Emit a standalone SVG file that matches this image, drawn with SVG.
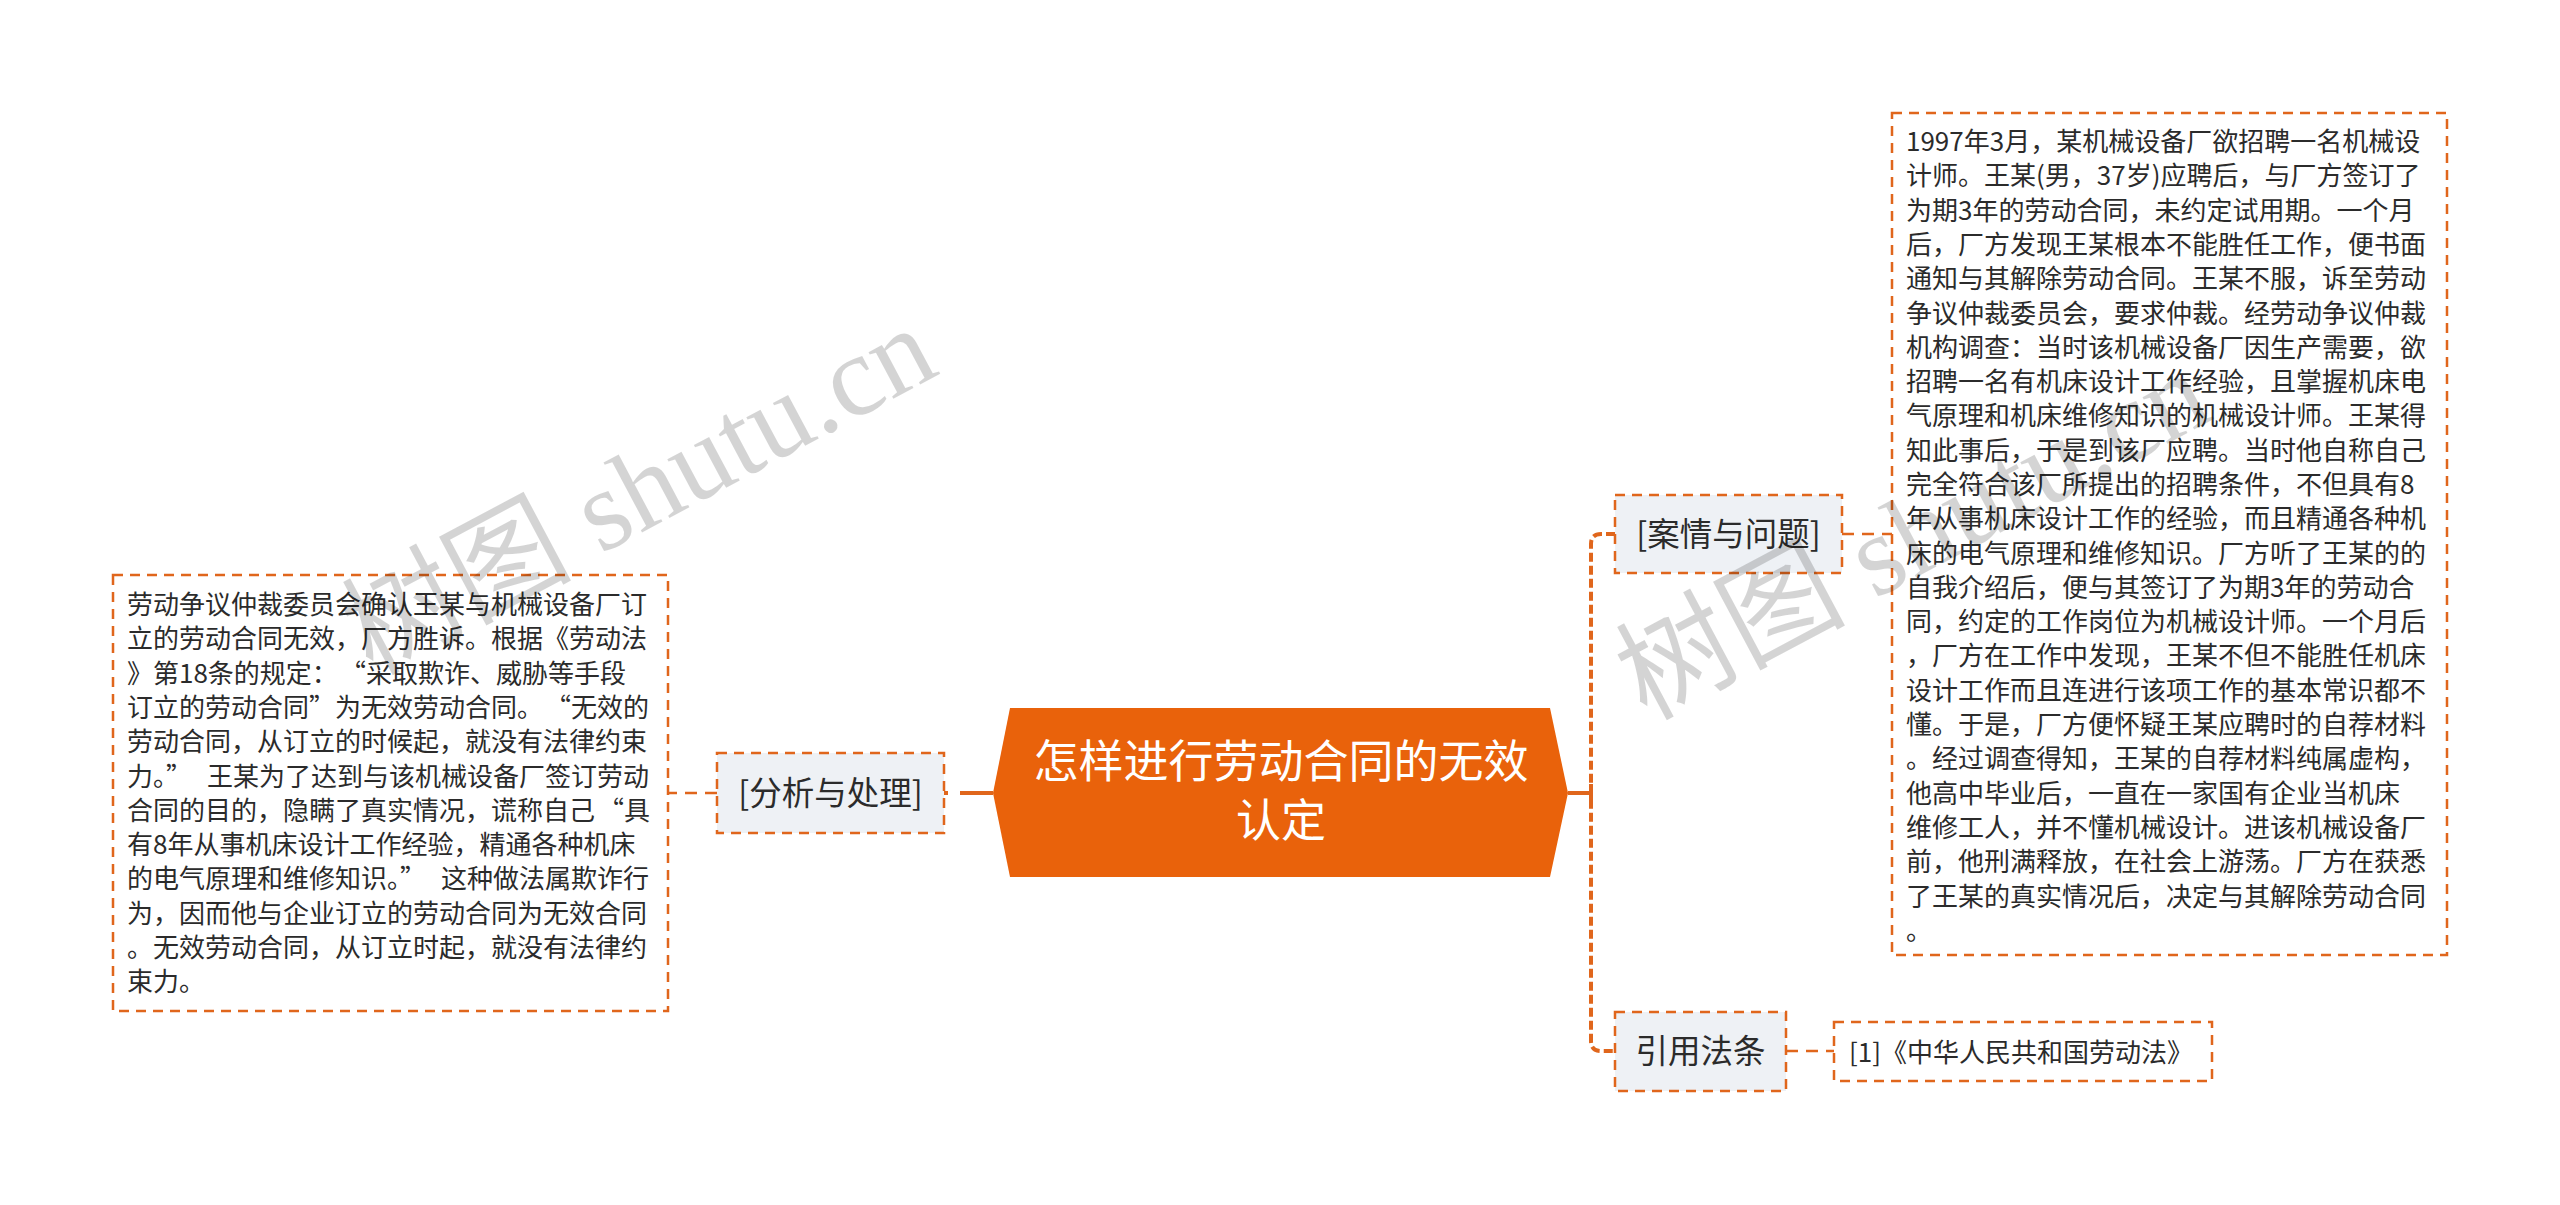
<svg xmlns="http://www.w3.org/2000/svg" width="2560" height="1205" viewBox="0 0 2560 1205">
<style>
.body{font-family:"Noto Sans CJK SC","Liberation Sans",sans-serif;font-size:26px;fill:#2b2b2b}
.lvl1{font-family:"Noto Sans CJK SC","Liberation Sans",sans-serif;font-size:32.5px;fill:#2b2b2b;text-anchor:middle}
.root{font-family:"Noto Sans CJK SC","Liberation Sans",sans-serif;font-size:45px;fill:#ffffff;text-anchor:middle}
.box1{fill:#eef1f5;stroke:#e0661c;stroke-width:2.5;stroke-dasharray:10 7}
.box2{fill:#ffffff;stroke:#e0661c;stroke-width:2.5;stroke-dasharray:10 7}
.thin{fill:none;stroke:#e0661c;stroke-width:2.5;stroke-dasharray:12 8}
.thick{fill:none;stroke:#e0661c;stroke-width:4}
.wm{font-family:"Liberation Serif","Noto Sans CJK SC",serif;font-size:115px;fill:#000;fill-opacity:0.17}
</style>
<rect width="2560" height="1205" fill="#ffffff"/>
<g id="connectors">
<line class="thick" x1="993" y1="793" x2="944" y2="793" stroke-dasharray="33 12 10 100"/>
<line class="thin" x1="717" y1="793" x2="668" y2="793"/>
<line class="thick" x1="1568" y1="793" x2="1591" y2="793"/>
<line class="thick" x1="1591" y1="784" x2="1591" y2="802"/>
<path class="thick" d="M1615,534 H1601 Q1591,534 1591,544 V1041 Q1591,1051 1601,1051 H1615" stroke-dasharray="9 4"/>
<line class="thin" x1="1842" y1="534" x2="1892" y2="534"/>
<line class="thin" x1="1786" y1="1051" x2="1834" y2="1051"/>
</g>
<g id="root">
<polygon points="1010,708 1550,708 1568,793 1550,877 1010,877 993,793" fill="#e9620b"/>
<text class="root" x="1281" y="778">怎样进行劳动合同的无效</text>
<text class="root" x="1281" y="837">认定</text>
</g>
<g id="analysis">
<rect class="box1" x="717" y="753" width="227" height="80"/>
<text class="lvl1" x="830.5" y="805">[分析与处理]</text>
</g>
<g id="analysis-text">
<rect class="box2" x="113" y="575" width="555" height="436"/>
<text class="body">
<tspan x="127" y="614">劳动争议仲裁委员会确认王某与机械设备厂订</tspan>
<tspan x="127" dy="34.3">立的劳动合同无效，厂方胜诉。根据《劳动法</tspan>
<tspan x="127" dy="34.3">》第18条的规定：<tspan dx="15">“采取欺诈、威胁等手段</tspan></tspan>
<tspan x="127" dy="34.3">订立的劳动合同”为无效劳动合同。<tspan dx="15">“无效的</tspan></tspan>
<tspan x="127" dy="34.3">劳动合同，从订立的时候起，就没有法律约束</tspan>
<tspan x="127" dy="34.3">力。”<tspan dx="15">王某为了达到与该机械设备厂签订劳动</tspan></tspan>
<tspan x="127" dy="34.3">合同的目的，隐瞒了真实情况，谎称自己<tspan dx="3">“具</tspan></tspan>
<tspan x="127" dy="34.3">有8年从事机床设计工作经验，精通各种机床</tspan>
<tspan x="127" dy="34.3">的电气原理和维修知识。”<tspan dx="15">这种做法属欺诈行</tspan></tspan>
<tspan x="127" dy="34.3">为，因而他与企业订立的劳动合同为无效合同</tspan>
<tspan x="127" dy="34.3">。无效劳动合同，从订立时起，就没有法律约</tspan>
<tspan x="127" dy="34.3">束力。</tspan>
</text>
</g>
<g id="case">
<rect class="box1" x="1615" y="495" width="227" height="78"/>
<text class="lvl1" x="1728.5" y="546">[案情与问题]</text>
</g>
<g id="case-text">
<rect class="box2" x="1892" y="113" width="555" height="842"/>
<text class="body">
<tspan x="1906" y="151">1997年3月，某机械设备厂欲招聘一名机械设</tspan>
<tspan x="1906" dy="34.3">计师。王某(男，37岁)应聘后，与厂方签订了</tspan>
<tspan x="1906" dy="34.3">为期3年的劳动合同，未约定试用期。一个月</tspan>
<tspan x="1906" dy="34.3">后，厂方发现王某根本不能胜任工作，便书面</tspan>
<tspan x="1906" dy="34.3">通知与其解除劳动合同。王某不服，诉至劳动</tspan>
<tspan x="1906" dy="34.3">争议仲裁委员会，要求仲裁。经劳动争议仲裁</tspan>
<tspan x="1906" dy="34.3">机构调查：当时该机械设备厂因生产需要，欲</tspan>
<tspan x="1906" dy="34.3">招聘一名有机床设计工作经验，且掌握机床电</tspan>
<tspan x="1906" dy="34.3">气原理和机床维修知识的机械设计师。王某得</tspan>
<tspan x="1906" dy="34.3">知此事后，于是到该厂应聘。当时他自称自己</tspan>
<tspan x="1906" dy="34.3">完全符合该厂所提出的招聘条件，不但具有8</tspan>
<tspan x="1906" dy="34.3">年从事机床设计工作的经验，而且精通各种机</tspan>
<tspan x="1906" dy="34.3">床的电气原理和维修知识。厂方听了王某的的</tspan>
<tspan x="1906" dy="34.3">自我介绍后，便与其签订了为期3年的劳动合</tspan>
<tspan x="1906" dy="34.3">同，约定的工作岗位为机械设计师。一个月后</tspan>
<tspan x="1906" dy="34.3">，厂方在工作中发现，王某不但不能胜任机床</tspan>
<tspan x="1906" dy="34.3">设计工作而且连进行该项工作的基本常识都不</tspan>
<tspan x="1906" dy="34.3">懂。于是，厂方便怀疑王某应聘时的自荐材料</tspan>
<tspan x="1906" dy="34.3">。经过调查得知，王某的自荐材料纯属虚构，</tspan>
<tspan x="1906" dy="34.3">他高中毕业后，一直在一家国有企业当机床</tspan>
<tspan x="1906" dy="34.3">维修工人，并不懂机械设计。进该机械设备厂</tspan>
<tspan x="1906" dy="34.3">前，他刑满释放，在社会上游荡。厂方在获悉</tspan>
<tspan x="1906" dy="34.3">了王某的真实情况后，决定与其解除劳动合同</tspan>
<tspan x="1906" dy="34.3">。</tspan>
</text>
</g>
<g id="law">
<rect class="box1" x="1615" y="1012" width="171" height="79"/>
<text class="lvl1" x="1700.5" y="1063">引用法条</text>
</g>
<g id="law-text">
<rect class="box2" x="1834" y="1022" width="378" height="59"/>
<text class="body" x="2021" y="1062" text-anchor="middle">[1]《中华人民共和国劳动法》</text>
</g>
<g id="watermarks">
<text class="wm" transform="translate(372,676) rotate(-28)">树图 shutu.cn</text>
<text class="wm" transform="translate(1646,721) rotate(-28)">树图 shutu.cn</text>
</g>
</svg>
